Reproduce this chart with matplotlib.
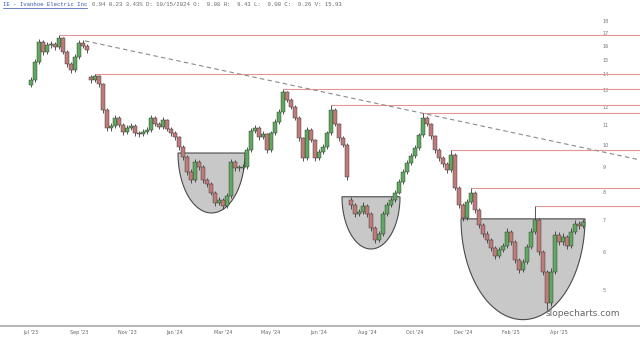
import matplotlib
matplotlib.use('Agg')
import matplotlib.pyplot as plt
import numpy as np
from matplotlib.lines import Line2D
from matplotlib.ticker import NullLocator

# IE - Ivanhoe Electric, prezzi (una candela ~ 3-4 sedute)
opens = [13.30, 13.63, 14.85, 16.33, 15.57, 16.10, 16.18, 15.95, 16.64, 15.57,
         14.71, 14.29, 15.21, 16.25, 16.03, 13.80, 13.63, 13.89, 13.37, 11.81,
         10.84, 10.95, 11.37, 11.00, 10.64, 10.84, 10.95, 10.58, 10.53, 10.64,
         10.74, 11.37, 11.05, 10.90, 11.26, 10.79, 10.58, 10.38, 9.90, 9.44,
         8.80, 8.46, 9.22, 9.00, 8.46, 8.31, 7.96, 7.58, 7.69, 7.48,
         7.84, 9.22, 8.96, 8.96, 9.00, 9.76, 10.69, 10.84, 10.38, 10.53,
         9.76, 10.58, 11.16, 11.70, 12.86, 12.39, 12.00, 11.37, 10.33, 9.40,
         10.74, 10.24, 9.40, 9.67, 9.90, 10.58, 11.81, 11.05, 10.33, 10.00,
         7.70, 7.51, 7.20, 7.27, 7.48, 7.20, 6.73, 6.36, 6.54, 7.20,
         7.51, 7.69, 7.96, 8.38, 8.80, 9.18, 9.49, 9.86, 10.48, 11.37,
         11.05, 10.43, 9.76, 9.40, 9.13, 8.88, 9.53, 8.15, 7.51, 7.06,
         7.62, 7.96, 7.34, 6.83, 6.54, 6.36, 6.12, 5.89, 6.06, 6.18,
         6.61, 6.30, 5.78, 5.51, 5.72, 6.15, 6.61, 6.99, 6.00, 5.46,
         4.71, 5.46, 6.51, 6.30, 6.45, 6.18, 6.61, 6.86, 6.80]
closes = [13.63, 14.85, 16.33, 15.57, 16.10, 16.18, 15.95, 16.64, 15.57, 14.71,
          14.29, 15.21, 16.25, 16.03, 15.72, 13.63, 13.89, 13.37, 11.81, 10.84,
          10.95, 11.37, 11.00, 10.64, 10.84, 10.95, 10.58, 10.53, 10.64, 10.74,
          11.37, 11.05, 10.90, 11.26, 10.79, 10.58, 10.38, 9.90, 9.44, 8.80,
          8.46, 9.22, 9.00, 8.46, 8.31, 7.96, 7.58, 7.69, 7.48, 7.84,
          9.22, 8.96, 8.96, 9.00, 9.76, 10.69, 10.84, 10.38, 10.53, 9.76,
          10.58, 11.16, 11.70, 12.86, 12.39, 12.00, 11.37, 10.33, 9.40, 10.74,
          10.24, 9.40, 9.67, 9.90, 10.58, 11.81, 11.05, 10.33, 10.00, 8.60,
          7.51, 7.20, 7.27, 7.48, 7.20, 6.73, 6.36, 6.54, 7.20, 7.51,
          7.69, 7.96, 8.38, 8.80, 9.18, 9.49, 9.86, 10.48, 11.37, 11.05,
          10.43, 9.76, 9.40, 9.13, 8.88, 9.53, 8.15, 7.51, 7.06, 7.62,
          7.96, 7.34, 6.83, 6.54, 6.36, 6.12, 5.89, 6.06, 6.18, 6.61,
          6.30, 5.78, 5.51, 5.72, 6.15, 6.61, 6.99, 6.00, 5.46, 4.71,
          5.46, 6.51, 6.30, 6.45, 6.18, 6.61, 6.86, 6.80, 6.93]
highs = [13.80, 15.05, 16.55, 16.45, 16.30, 16.40, 16.35, 16.88, 16.75, 15.70,
         14.85, 15.40, 16.45, 16.45, 16.20, 13.95, 14.02, 13.98, 13.45, 11.90,
         11.10, 11.55, 11.45, 11.10, 10.98, 11.08, 11.02, 10.70, 10.78, 10.88,
         11.55, 11.45, 11.15, 11.40, 11.32, 10.88, 10.66, 10.45, 9.98, 9.52,
         8.90, 9.35, 9.32, 9.08, 8.55, 8.38, 8.02, 7.80, 7.76, 7.95,
         9.35, 9.30, 9.10, 9.12, 9.88, 10.82, 10.98, 10.92, 10.66, 10.60,
         10.70, 11.30, 11.85, 13.05, 12.95, 12.48, 12.08, 11.45, 10.40, 10.88,
         10.82, 10.30, 9.80, 10.02, 10.70, 12.10, 11.90, 11.12, 10.42, 10.08,
         7.80, 7.58, 7.38, 7.60, 7.55, 7.26, 6.80, 6.64, 7.30, 7.62,
         7.80, 8.06, 8.48, 8.92, 9.30, 9.60, 9.98, 10.60, 11.65, 11.45,
         11.12, 10.50, 9.84, 9.48, 9.20, 9.76, 9.60, 8.22, 7.58, 7.72,
         8.14, 8.02, 7.40, 6.90, 6.62, 6.42, 6.18, 6.15, 6.28, 6.72,
         6.68, 6.36, 5.84, 5.82, 6.25, 6.72, 7.47, 7.05, 6.06, 5.52,
         5.56, 6.62, 6.60, 6.56, 6.52, 6.72, 6.98, 6.95, 7.04]
lows = [13.15, 13.50, 14.70, 15.35, 15.40, 15.90, 15.75, 15.80, 15.40, 14.50,
        14.10, 14.15, 15.05, 15.85, 15.50, 13.45, 13.50, 13.20, 11.65, 10.70,
        10.70, 10.85, 10.88, 10.50, 10.52, 10.72, 10.45, 10.40, 10.42, 10.52,
        10.65, 10.92, 10.78, 10.80, 10.66, 10.45, 10.25, 9.78, 9.32, 8.68,
        8.35, 8.38, 8.88, 8.35, 8.20, 7.86, 7.48, 7.50, 7.38, 7.42,
        7.78, 8.85, 8.82, 8.86, 8.92, 9.68, 10.58, 10.25, 10.28, 9.64,
        9.68, 10.48, 11.05, 11.60, 12.25, 11.88, 11.25, 10.20, 9.28, 9.32,
        10.12, 9.28, 9.30, 9.58, 9.82, 10.50, 10.92, 10.20, 9.88, 8.45,
        7.38, 7.10, 7.12, 7.20, 7.10, 6.64, 6.28, 6.30, 6.48, 7.12,
        7.44, 7.62, 7.90, 8.30, 8.72, 9.10, 9.40, 9.78, 10.40, 10.92,
        10.30, 9.64, 9.28, 9.02, 8.76, 8.80, 8.05, 7.40, 6.95, 7.00,
        7.55, 7.24, 6.74, 6.45, 6.27, 6.04, 5.80, 5.84, 6.00, 6.12,
        6.22, 5.70, 5.42, 5.46, 5.66, 6.08, 6.55, 5.92, 5.38, 4.55,
        4.65, 5.40, 6.20, 6.22, 6.10, 6.12, 6.55, 6.70, 6.74]

tick_pos = [0, 12, 24, 36, 48, 60, 72, 84, 96, 108, 120, 132]
tick_labels = ["Jul '23", "Sep '23", "Nov '23", "Jan '24", "Mar '24", "May '24",
               "Jun '24", "Aug '24", "Oct '24", "Dec '24", "Feb '25", "Apr '25"]
price_ticks = [5, 6, 7, 8, 9, 10, 11, 12, 13, 14, 15, 16, 17, 18]

# resistenze orizzontali (livello, candela di partenza)
res_levels = [16.88, 14.02, 13.05, 12.10, 11.65, 9.76, 8.14, 7.47]
res_starts = [7, 16, 63, 75, 98, 105, 110, 126]

# trendline tratteggiata
trend_x = [13.5, 152.25]
trend_y = [16.41, 9.31]

# tazze (cup) grigie
cup_left = [36.75, 77.75, 107.5]
cup_right = [53.5, 92.25, 138.5]
cup_top = [9.62, 7.81, 7.03]
cup_bottom = [7.23, 6.09, 4.35]

fig = plt.figure(figsize=(6.4, 3.4), dpi=100)
ax = fig.add_axes([0, 14 / 340, 1, 326 / 340])
ax.set_yscale('log')
ax.set_xlim(-7.75, 152.25)
ax.set_ylim(4.22, 19.94)

for l, r, top, bot in zip(cup_left, cup_right, cup_top, cup_bottom):
    t = np.linspace(0, np.pi, 80)
    cx, hw = (l + r) / 2, (r - l) / 2
    xs = cx + hw * np.cos(t)
    ys = np.exp(np.log(top) - (np.log(top) - np.log(bot)) * np.sin(t))
    ax.fill(xs, ys, facecolor='#c8c8c8', edgecolor='#4a4a4a', lw=0.8, zorder=1)

xmax = ax.get_xlim()[1]
ax.hlines(res_levels, res_starts, xmax, color='#e39494', lw=0.8, zorder=2)
ax.plot(trend_x, trend_y, color='#8a8a8a', lw=0.8, dashes=(4, 3), zorder=2)

x = np.arange(len(closes))
o = np.array(opens)
c = np.array(closes)
up = c >= o
ax.vlines(x, lows, highs, color='#3a3a3a', lw=0.6, zorder=3)
bottoms = np.minimum(o, c)
heights = np.maximum(np.abs(c - o), 0.03)
ax.bar(x[up], heights[up], bottom=bottoms[up], width=0.85, color='#5fa85f',
       edgecolor='#2e2e2e', linewidth=0.3, zorder=4)
ax.bar(x[~up], heights[~up], bottom=bottoms[~up], width=0.85, color='#c07a7a',
       edgecolor='#2e2e2e', linewidth=0.3, zorder=4)

ax.yaxis.tick_right()
ax.set_yticks(price_ticks)
ax.set_yticklabels([str(p) for p in price_ticks])
ax.yaxis.set_minor_locator(NullLocator())
ax.tick_params(axis='y', length=0, pad=-27, labelsize=3.5, labelcolor='#777')
ax.set_xticks(tick_pos)
ax.set_xticklabels(tick_labels)
ax.tick_params(axis='x', length=0, pad=3, labelsize=3.5, labelcolor='#666')

for s in ['top', 'left', 'right']:
    ax.spines[s].set_visible(False)
ax.spines['bottom'].set_color('#a8a8a8')
ax.spines['bottom'].set_linewidth(1.2)

fig.text(546 / 640, 1 - 313 / 340, 'slopecharts.com', fontsize=6.5,
         color='#666', va='center', ha='left')

t1 = fig.text(3 / 640, 1 - 5 / 340, 'IE - Ivanhoe Electric Inc', fontsize=4.1,
              family='Liberation Mono', color='#3355aa', va='center')
fig.text(92 / 640, 1 - 5 / 340,
         '6.94 0.23 3.43% D: 10/15/2024 O:  9.08 H:  9.43 L:  9.00 C:  9.26 V: 15.93',
         fontsize=4.1, family='Liberation Mono', color='#666', va='center')
fig.canvas.draw()
bb = t1.get_window_extent()
fig.add_artist(Line2D([bb.x0, bb.x1], [bb.y0, bb.y0], transform=None,
                      color='#3355aa', lw=0.5))

fig.savefig('out.png', dpi=100)
